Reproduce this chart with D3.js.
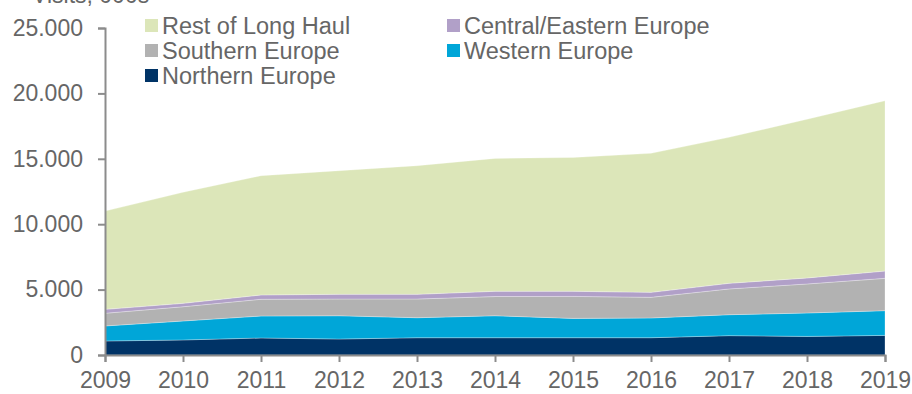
<!DOCTYPE html>
<html>
<head>
<meta charset="utf-8">
<script src="https://cdn.jsdelivr.net/npm/d3@7"></script>
<style>
  html, body { margin: 0; padding: 0; background: #fff; }
  svg { display: block; }
  text { font-family: "Liberation Sans", Arial, sans-serif; fill: #666; }
</style>
</head>
<body>
<svg id="chart" width="912" height="394"></svg>
<script>
// Visits (000s) by origin region, 2009-2019
const years = [2009, 2010, 2011, 2012, 2013, 2014, 2015, 2016, 2017, 2018, 2019];
const northernEurope = [1070, 1150, 1300, 1220, 1320, 1320, 1320, 1320, 1480, 1420, 1500];
const westernEurope  = [1150, 1450, 1680, 1780, 1530, 1680, 1480, 1510, 1600, 1790, 1890];
const southernEurope = [970, 1090, 1280, 1280, 1430, 1470, 1680, 1580, 1970, 2220, 2470];
const centralEastern = [300, 260, 330, 360, 360, 400, 390, 380, 430, 460, 560];
const restLongHaul   = [7510, 8490, 9120, 9450, 9830, 10160, 10230, 10630, 11160, 12130, 13020];
const yTicks = [0, 5000, 10000, 15000, 20000, 25000];

const seriesNames = ["Northern Europe", "Western Europe", "Southern Europe", "Central/Eastern Europe", "Rest of Long Haul"];
const seriesValues = [northernEurope, westernEurope, southernEurope, centralEastern, restLongHaul];
const colors = {
  "Northern Europe": "#003366",
  "Western Europe": "#00a6d8",
  "Southern Europe": "#b2b2b2",
  "Central/Eastern Europe": "#b1a0c8",
  "Rest of Long Haul": "#dce6b9"
};

const table = years.map((yr, i) => {
  const row = { year: yr };
  seriesNames.forEach((n, k) => { row[n] = seriesValues[k][i]; });
  return row;
});

const svg = d3.select("#chart");
const plotLeft = 105, plotRight = 885, plotTop = 28, plotBottom = 355;

const x = d3.scaleLinear().domain([2009, 2019]).range([plotLeft, plotRight]);
const y = d3.scaleLinear().domain([0, 25000]).range([plotBottom, plotTop]);

const stacked = d3.stack().keys(seriesNames)(table);
const area = d3.area()
  .x(d => x(d.data.year))
  .y0(d => y(d[0]))
  .y1(d => y(d[1]));

svg.append("g").selectAll("path")
  .data(stacked)
  .join("path")
  .attr("d", area)
  .attr("fill", d => colors[d.key])
  .attr("stroke", "rgba(255,255,255,0.35)")
  .attr("stroke-width", 0.8);

const fmt = v => d3.format(",")(v).replace(/,/g, ".");

// Y axis
const yAxis = svg.append("g")
  .attr("transform", `translate(${plotLeft},0)`)
  .call(d3.axisLeft(y).tickValues(yTicks).tickFormat(fmt).tickSize(7).tickPadding(15));
yAxis.select(".domain").attr("stroke", "#8c8c8c").attr("stroke-width", 2);
yAxis.selectAll(".tick line").attr("stroke", "#8c8c8c").attr("stroke-width", 2);
yAxis.selectAll("text")
  .style("font-size", "23px").attr("fill", "#666")
  .style("font-family", "'Liberation Sans', Arial, sans-serif");

// X axis
const xAxis = svg.append("g")
  .attr("transform", `translate(0,${plotBottom})`)
  .call(d3.axisBottom(x).tickValues(years).tickFormat(d3.format("d")).tickSize(7).tickPadding(10));
xAxis.select(".domain").attr("stroke", "#8c8c8c").attr("stroke-width", 2);
xAxis.selectAll(".tick line").attr("stroke", "#8c8c8c").attr("stroke-width", 2);
xAxis.selectAll("text")
  .style("font-size", "23px").attr("fill", "#666")
  .style("font-family", "'Liberation Sans', Arial, sans-serif");

// Axis title
svg.append("text")
  .attr("x", 32).attr("y", 3)
  .style("font-size", "23px")
  .text("Visits, 000s");

// Legend
const legendItems = [
  { name: "Rest of Long Haul", col: 0, row: 0 },
  { name: "Central/Eastern Europe", col: 1, row: 0 },
  { name: "Southern Europe", col: 0, row: 1 },
  { name: "Western Europe", col: 1, row: 1 },
  { name: "Northern Europe", col: 0, row: 2 }
];
const colX = [145, 447];
const legend = svg.append("g");
const li = legend.selectAll("g").data(legendItems).join("g")
  .attr("transform", d => `translate(${colX[d.col]},${26 + d.row * 25})`);
li.append("rect")
  .attr("x", 0).attr("y", -7).attr("width", 13).attr("height", 13)
  .attr("fill", d => colors[d.name]);
li.append("text")
  .attr("x", 17).attr("y", 8)
  .style("font-size", "23.5px")
  .text(d => d.name);
</script>
</body>
</html>
